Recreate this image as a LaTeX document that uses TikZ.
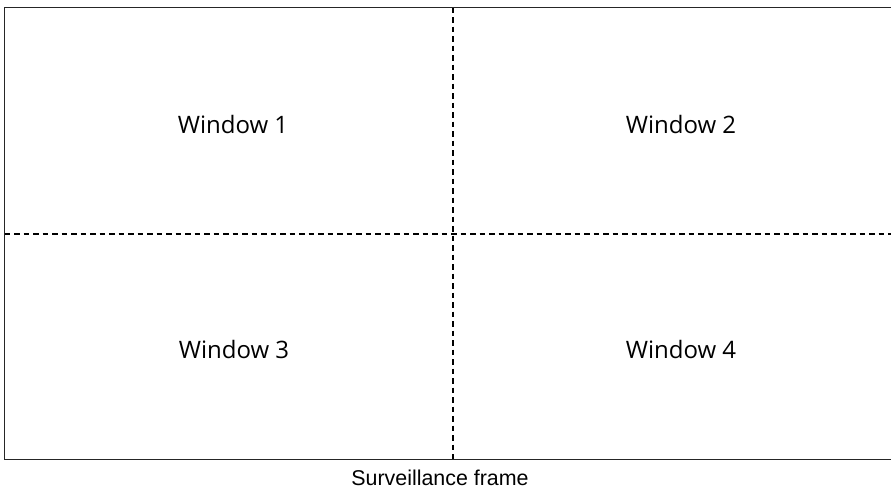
\documentclass[tikz,border=0pt]{standalone}
\usepackage{fontspec}
\setmainfont{Liberation Sans}
\newfontfamily\winfont{Open Sans}
\usetikzlibrary{positioning}

\begin{document}
\begin{tikzpicture}[line cap=butt,line join=miter,x=1pt,y=-1pt]
\useasboundingbox (0,0) rectangle (891,491);
\clip (0,0) rectangle (891,491);
\coordinate (tl) at (4.5,7.5);
\coordinate (br) at (902,459.5);
\coordinate (mt) at (453,7.5);
\coordinate (mb) at (453,459.5);
\coordinate (ml) at (4.5,234);
\coordinate (mr) at (902,234);
\draw [line width=1.2pt,dash pattern=on 5.5pt off 4pt] (mt)-- (mb);
\draw [line width=1.2pt,dash pattern=on 5.5pt off 4pt] (ml)-- (mr);
\draw [line width=1.9pt,black!85] (tl) rectangle (br);
\node [font=\winfont\fontsize{24}{28}\selectfont] (w1) at (233,124) {Window 1};
\node [font=\winfont\fontsize{24}{28}\selectfont] (w2) at (681,124) {Window 2};
\node [font=\winfont\fontsize{24}{28}\selectfont] (w3) at (234,349) {Window 3};
\node [font=\winfont\fontsize{24}{28}\selectfont] (w4) at (681,349) {Window 4};
\node [font=\fontsize{21.4}{25}\selectfont] (cap) at (440,478) {Surveillance frame};
\end{tikzpicture}
\end{document}
